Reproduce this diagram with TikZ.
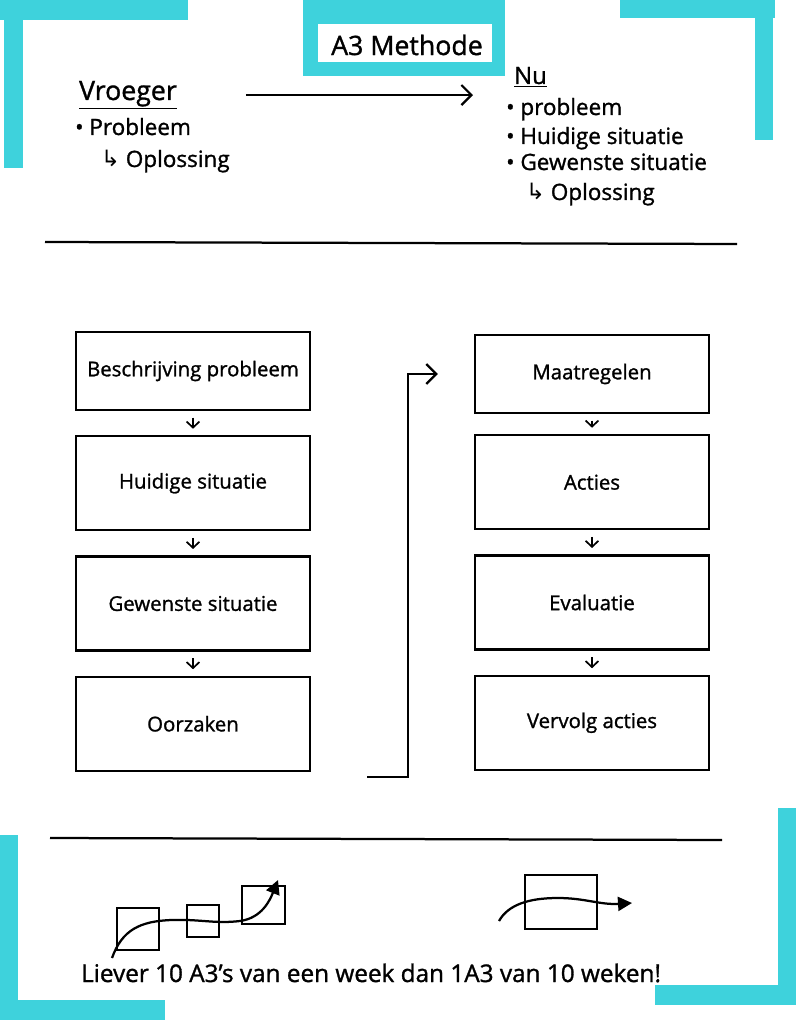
\documentclass[tikz,border=0pt]{standalone}
\usepackage{fontspec}
\setmainfont{Open Sans}[FakeBold=1.2]
\newfontfamily\symfont{DejaVu Sans}
\usetikzlibrary{arrows.meta, positioning}
\definecolor{tape}{RGB}{62,210,220}

\begin{document}
\begin{tikzpicture}[
  x=0.25mm, y=-0.25mm,
  line width=1.6pt,
  font=\fontsize{14.5}{17}\selectfont,
  arrow/.style={-{Straight Barb[length=2.5mm, width=5mm]}},
  smallarrow/.style={-{Straight Barb[length=1.5mm, width=3.2mm]}, line width=1.2pt,
    shorten <=1.6mm, shorten >=1.6mm},
  tiparrow/.style={-{Triangle[length=3.5mm, width=3.5mm]}},
  box/.style={
    draw,
    minimum width=58.5mm,
    minimum height=23.5mm,
    inner sep=4pt
  },
  note/.style={anchor=base west, inner sep=0pt, font=\fontsize{16}{19}\selectfont},
  title/.style={font=\fontsize{19}{22}\selectfont},
  node distance=6mm
]

\useasboundingbox (0,0) rectangle (796,1024);
\fill[white] (0,0) rectangle (796,1024);

% =========================
% Tape
% =========================
\fill[tape] (0,0) rectangle (188,20);
\fill[tape] (4,0) rectangle (23,168);
\fill[tape] (620,0) rectangle (775,18);
\fill[tape] (755,0) rectangle (773,140);
\fill[tape] (0,835) rectangle (18,1012);
\fill[tape] (0,1000) rectangle (165,1020);
\fill[tape] (778,808) rectangle (796,1005);
\fill[tape] (655,985) rectangle (778,1005);
\fill[tape] (303,0) rectangle (505,76);
\fill[white] (318,24) rectangle (492,62);

% =========================
% Header
% =========================
\node[title] (title) at (407,45) {A3 Methode};

\node[note, font=\fontsize{19}{22}\selectfont] (vroeger) at (78,100) {\underline{Vroeger}};
\node[note] (vprob) at (74,135) {• Probleem};
\node[note] (vopl) at (100,167) {{\symfont ↳} Oplossing};

\node[note, font=\fontsize{17}{20}\selectfont] (nu) at (513,84) {\underline{Nu}};
\node[note] (nprob) at (505,115) {• probleem};
\node[note] (nhuid) at (505,144) {• Huidige situatie};
\node[note] (ngew) at (505,170) {• Gewenste situatie};
\node[note] (nopl) at (525,200) {{\symfont ↳} Oplossing};

\draw[arrow, shorten <=17mm, shorten >=10mm] (vroeger.east) -- (vroeger.east -| nu.west);

\draw (45,242) -- (737,244);

% =========================
% LEFT COLUMN
% =========================
\node[box, minimum height=19.5mm] (b1) at (193,371) {Beschrijving probleem};
\node[box, below=of b1] (b2) {Huidige situatie};
\node[box, below=of b2] (b3) {Gewenste situatie};
\node[box, below=of b3] (b4) {Oorzaken};

\draw[smallarrow] (b1) -- (b2);
\draw[smallarrow] (b2) -- (b3);
\draw[smallarrow] (b3) -- (b4);

% =========================
% RIGHT COLUMN
% =========================
\node[box, minimum height=19.5mm] (b5) at (592,374) {Maatregelen};
\node[box, below=5mm of b5] (b6) {Acties};
\node[box, below=of b6] (b7) {Evaluatie};
\node[box, below=of b7] (b8) {Vervolg acties};

\draw[smallarrow] (b5) -- (b6);
\draw[smallarrow] (b6) -- (b7);
\draw[smallarrow] (b7) -- (b8);

\coordinate (cstart) at (367,777);
\coordinate (cbend) at (408,777);
\draw[arrow, shorten >=9mm] (cstart) -- (cbend) |- (b5.west);

\draw (50,838) -- (722,840);

% =========================
% Bottom
% =========================
\draw (117,908) rectangle (159,950);
\draw (187,905) rectangle (219,937);
\draw (242,886) rectangle (285,924);
\draw[tiparrow] (112,958) .. controls (122,930) and (140,921) .. (172,920)
  .. controls (200,919) and (215,924) .. (240,921)
  .. controls (262,918) and (270,900) .. (278,880);

\draw (525,875) rectangle (597,929);
\draw[tiparrow] (499,921) .. controls (508,905) and (528,898) .. (558,898)
  .. controls (585,898) and (600,905) .. (632,903);

\node[note, font=\fontsize{17.3}{20}\selectfont] (motto) at (80,982)
  {Liever 10 A3's van een week dan 1A3 van 10 weken!};

\end{tikzpicture}
\end{document}
